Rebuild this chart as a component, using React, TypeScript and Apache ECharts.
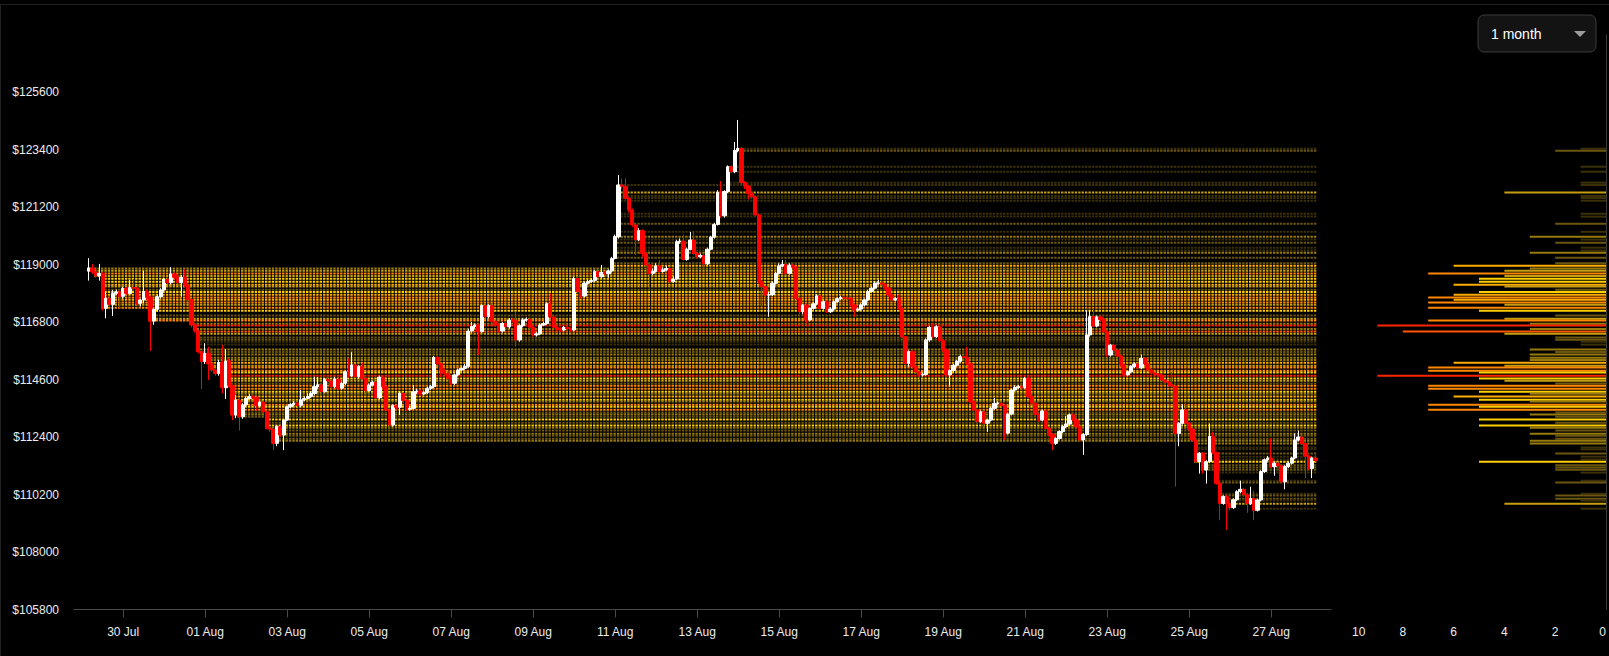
import React, { useEffect, useRef } from "react";
import * as echarts from "echarts";

// 2-hour candles, index 0 = 29 Jul 04:00
const firstOpen = 118760;
const closes = [
  118870,118720,118570,118670,117330,117710,117480,117900,117960,117790,
  118090,117900,118120,118100,117520,117650,117970,117750,116840,117290,
  117775,118030,118440,118310,118640,118515,118310,118515,118220,117670,
  116690,116470,115670,115290,115600,115200,114970,114840,115250,114290,
  115310,114370,113245,113820,113180,113630,113880,113950,113910,113600,
  113740,113370,112740,112700,112160,112800,112480,113050,113560,113650,
  113700,113620,113820,113880,113950,114070,114330,114400,114140,114610,
  114550,114330,114610,114270,114460,114900,114740,115160,114710,115100,
  114650,114180,114390,114500,113900,114690,114330,113440,112860,113600,
  113540,114075,113800,113460,113500,114140,114160,114050,114100,114270,
  114330,115450,115200,114970,114840,114650,114460,114780,114970,115030,
  115100,116460,116630,116690,116435,117430,117010,117430,116820,116690,
  116460,116750,116620,116880,116850,116120,116665,116880,116900,116600,
  116310,116350,116690,116750,117500,117000,116600,116560,116500,116600,
  116550,116500,118470,117970,117800,118290,118350,118400,118730,118540,
  118700,118650,118760,119240,120070,122050,122000,121540,121090,120520,
  119950,120300,119430,118990,118670,118750,118950,118740,118800,118850,
  118350,118450,119880,119900,119200,119590,119945,119430,119300,119350,
  119030,119590,120050,120540,121770,120870,121800,122750,122560,123370,
  123450,122140,122000,121730,121600,120900,118350,118160,117840,117850,
  118290,118670,118950,119000,118670,118980,118900,117710,117200,117450,
  116880,117330,117500,117800,117330,117580,117200,117300,117580,117700,
  117740,117720,117700,117460,117260,117300,117460,117650,117970,118100,
  118290,118300,118250,118100,117840,117650,117700,117330,116240,115220,
  115670,115100,114900,114780,114800,116120,116600,116250,116620,116090,
  115735,114780,114950,115150,115300,115480,115450,115200,113760,113440,
  112990,113370,112930,113050,113500,113690,113700,113600,112550,113280,
  114200,114300,114330,114300,114650,113950,113700,113270,113050,113400,
  112730,112500,112160,112350,112610,112800,112900,113250,113060,112800,
  112290,112500,116310,117010,116650,117000,116900,116430,115540,115920,
  115730,115500,115160,114780,114900,115100,115200,115050,115415,115200,
  114970,114850,114800,114780,114590,114500,114400,114350,112540,112930,
  113440,112930,112700,112290,111460,111780,111140,111460,112420,111800,
  110630,109860,110120,109860,109700,110000,110310,110400,110200,109860,
  110050,109600,109990,111080,111530,111600,111270,111400,111300,110690,
  111270,111400,111600,112290,112400,112150,111670,111200,111600,111500,
];
const highs = [
  119250,119030,118760,119030,118700,117970,117780,118030,118050,118000,
  118150,118150,118410,118450,118150,117700,118760,118050,117800,117350,
  117850,118100,118500,118520,118900,118700,118600,118600,118820,118250,
  117700,116750,116500,115700,115990,115860,115250,115050,115350,115930,
  115770,115400,114400,114010,113900,113700,113950,114050,114000,113950,
  113800,113780,113400,112800,112750,112850,112850,113100,113600,113700,
  113780,113750,114200,113950,114070,114150,114710,114700,114450,114650,
  114680,114600,114710,114650,114520,114950,115410,115650,115200,115150,
  115250,114700,114450,114550,114550,114750,114750,114380,113500,113650,
  113650,114150,114100,113850,113600,114390,114250,114200,114180,114330,
  114400,115500,115500,115250,115000,114900,114700,114830,115020,115100,
  115200,116550,116800,116750,116750,117480,117480,117480,117480,116880,
  116750,116800,116800,116950,116950,117200,116720,116950,116980,116950,
  116650,116420,116750,116820,117550,117900,117050,116650,116600,116650,
  116650,116600,118520,118550,118050,118350,118420,118480,118800,118780,
  118990,118750,118820,119300,120150,122430,122300,122300,121600,121150,
  120580,120400,120350,119500,119050,118850,119050,119180,118900,118950,
  118900,118550,119950,120000,120140,119650,120250,120280,119480,119420,
  119400,119650,120100,120600,121850,122200,121850,122800,122800,123700,
  124540,123500,122200,122050,121800,121650,120950,118400,118200,117950,
  118350,118720,119050,119180,119180,119050,119020,118950,117750,117500,
  117500,117380,117580,117860,117850,117630,117630,117380,117630,117760,
  117800,117790,117760,117750,117500,117360,117520,117700,118030,118160,
  118350,118420,118380,118300,118150,117880,117760,117850,117380,116280,
  115720,115720,115150,114950,114850,116180,116650,116750,116680,116680,
  116150,115780,115000,115200,115350,115550,115520,115860,115250,113800,
  113480,113420,113420,113100,113550,113900,113770,113750,113650,113330,
  114250,114380,114400,114400,114700,114700,114000,113750,113320,113450,
  113450,112780,112550,112400,112660,112850,113200,113300,113300,113100,
  112850,112550,117260,117270,117330,117050,117050,116950,116480,115970,
  115970,115780,115550,115200,114950,115150,115250,115250,115550,115450,
  115250,115000,114880,114850,114820,114620,114550,114900,114400,112980,
  113650,113700,112980,112750,112330,111830,111830,111510,112920,112600,
  111850,110680,110170,110170,109900,110050,110370,110730,110450,110250,
  110500,110350,110040,111130,111580,111680,112350,111450,111450,111350,
  111320,111450,111650,112540,112650,112450,112200,111720,111650,111700,
];
const lows = [
  118390,118650,118500,118390,117250,116950,117400,117040,117850,117330,
  117700,117850,117850,118000,117450,117400,117520,117650,115700,116700,
  117200,117700,117950,118250,118250,118450,118250,117780,118150,117600,
  116600,116400,115600,114240,115200,114590,114900,114750,114750,114070,
  113860,114300,113050,113120,112650,113100,113550,113850,113850,113410,
  113550,113300,112700,112600,111900,112050,112400,111900,113000,113500,
  113600,113550,113550,113780,113850,113900,114000,114250,114010,114100,
  114480,114250,114280,114200,114200,114400,114680,114700,114650,114650,
  114600,114100,114150,114350,113850,113850,114250,113400,112700,112800,
  113450,113250,113700,113400,113400,113450,114050,113980,114000,114050,
  114200,114280,115150,114710,114780,114600,114400,114400,114720,114920,
  114980,115050,116400,116550,115540,116400,116950,116950,116750,116620,
  116400,116400,116550,116550,116780,115860,116050,116600,116820,116550,
  116250,116250,116300,116650,116700,116950,116550,116480,116420,116450,
  116480,116420,116450,117900,117700,117750,118250,118300,118350,118480,
  118500,118600,118500,118700,119200,120000,121900,121480,121000,120450,
  119370,119900,119300,118920,118030,118600,118700,118680,118700,118750,
  118280,118300,118400,119800,119150,119150,119550,119380,119250,119250,
  118850,118980,119550,120000,120500,120800,120800,121750,122500,122500,
  123300,122050,121900,121500,121550,120850,118280,117390,117500,117010,
  117800,118250,118620,118900,118620,118620,118850,117650,117100,117100,
  116750,116830,117280,117450,117280,117280,117150,117150,117250,117530,
  117650,117660,117640,117400,117000,117200,117250,117400,117600,117920,
  118050,118230,118200,118050,117780,117600,117600,117280,116180,115150,
  115100,115050,114850,114600,114720,114750,116050,116200,116200,116040,
  115680,114720,114330,114900,115100,115250,115400,115150,113700,113380,
  112900,112950,112800,112600,113000,113450,113640,113540,112300,112500,
  113230,114150,114250,114250,114250,113900,113650,113200,112980,113000,
  112680,112450,111900,112100,112300,112550,112750,112850,113000,112750,
  112250,111720,112450,116250,116600,116600,116850,116380,115480,115480,
  115680,115450,115100,114720,114730,114850,115050,115000,115000,115150,
  114920,114800,114750,114720,114540,114450,114350,114300,110500,112050,
  112880,112880,112650,112240,111400,111000,111000,110620,111400,111750,
  110580,109220,109810,108840,109600,109650,109950,110250,110150,109500,
  109800,109220,109550,109940,111030,111480,111220,110920,111250,110640,
  110400,111220,111350,111550,112240,112100,110830,111150,110830,111450,
];

const dateTickIndex = [10, 34, 58, 82, 106, 130, 154, 178, 202, 226, 250, 274, 298, 322, 346];
const dateLabels = ["30 Jul", "01 Aug", "03 Aug", "05 Aug", "07 Aug", "09 Aug", "11 Aug", "13 Aug",
  "15 Aug", "17 Aug", "19 Aug", "21 Aug", "23 Aug", "25 Aug", "27 Aug"];
const priceTicks = [105800, 108000, 110200, 112400, 114600, 116800, 119000, 121200, 123400, 125600];

// volume-profile levels: price and count
const levelPrices = [
  123440,123360,122750,122560,122140,122050,121760,121630,121550,121450,
  120950,120840,120570,120260,120070,119960,119840,119650,119540,119460,
  119270,119050,118960,118850,118770,118660,118570,118460,118350,118230,
  118160,118040,117950,117850,117740,117660,117550,117470,117350,117240,
  117050,116930,116860,116740,116670,116540,116440,116360,116210,116130,
  116050,115940,115750,115660,115560,115440,115350,115250,115130,115060,
  114940,114870,114750,114640,114560,114450,114370,114250,114140,114060,
  113950,113830,113760,113640,113560,113450,113340,113260,113180,113070,
  112950,112840,112760,112650,112530,112450,112340,112260,112150,112000,
  111930,111770,111650,111540,111460,111320,111240,111150,111040,110730,
  110660,110230,110160,110040,109970,109850,109660,
];
const levelCounts = [
  1,2,1,1,1,1,4,1,1,1,
  1,1,2,1,3,1,2,1,1,3,
  2,2,6,3,4,7,4,5,5,6,
  4,2,5,6,7,6,7,4,7,5,
  2,4,7,3,9,3,8,4,2,2,
  1,1,3,2,3,3,3,6,4,7,
  7,5,9,5,4,2,7,7,5,3,
  6,5,3,7,5,7,2,3,2,5,
  2,5,3,2,3,2,2,3,3,1,
  1,2,1,1,5,2,2,2,1,1,
  2,1,2,2,1,4,1,
];

const countColors = ["#3b3008", "#6a5610", "#977a0c", "#c79e10", "#ffcf00", "#ffad00", "#ff8800", "#ff5500", "#ff2400"];
const FONT = '"Liberation Sans", Arial, sans-serif';

export default function App() {
  const ref = useRef<HTMLDivElement>(null);
  useEffect(() => {
    document.body.style.margin = "0";
    document.body.style.background = "#000";
    const chart = echarts.init(ref.current as HTMLDivElement, null, { renderer: "svg" });
    const lastIndex = closes.length - 1;
    const candles = closes.map((c, i) => {
      const o = i === 0 ? firstOpen : closes[i - 1];
      return [i, o, c, lows[i], highs[i]];
    });
    const levelData = levelPrices.map((p, k) => {
      let start = candles.findIndex((d) => p >= Math.min(d[1], d[2]) && p <= Math.max(d[1], d[2]));
      if (start < 0) start = candles.findIndex((d) => p >= d[3] && p <= d[4]);
      if (start < 0) start = 0;
      return [start, p, levelCounts[k]];
    });
    const histData = levelPrices.map((p, k) => [levelCounts[k], p]);

    const option: any = {
      animation: false,
      backgroundColor: "#000",
      grid: [
        { left: 74, right: 278, top: 34.8, bottom: 46.5 },
        { left: 1352, right: 3, top: 34.8, bottom: 46.5 },
      ],
      xAxis: [
        {
          type: "value", gridIndex: 0, min: -4.39, max: 363.5,
          splitLine: { show: false },
          axisLine: { show: true, onZero: false, lineStyle: { color: "#4a4a4a" } },
          axisTick: { show: true, customValues: dateTickIndex, length: 8, lineStyle: { color: "#4a4a4a" } },
          axisLabel: {
            customValues: dateTickIndex,
            formatter: (v: number) => {
              const k = dateTickIndex.indexOf(Math.round(v));
              return k >= 0 ? dateLabels[k] : "";
            },
            color: "#ececec", fontSize: 12, margin: 16, fontFamily: FONT,
          },
        },
        {
          type: "value", gridIndex: 1, min: 0, max: 10, interval: 2, inverse: true,
          axisLine: { show: false }, axisTick: { show: false }, splitLine: { show: false },
          axisLabel: { color: "#ececec", fontSize: 12, margin: 16, fontFamily: FONT, alignMinLabel: "right", alignMaxLabel: "left" },
        },
      ],
      yAxis: [
        {
          type: "value", gridIndex: 0, min: 105800, max: 127800,
          splitLine: { show: false }, axisLine: { show: false }, axisTick: { show: false },
          axisLabel: {
            customValues: priceTicks,
            formatter: (v: number) => "$" + v,
            color: "#ececec", fontSize: 12, margin: 15, fontFamily: FONT, padding: [0, 0, 5, 0],
          },
        },
        {
          type: "value", gridIndex: 1, min: 105800, max: 127800, position: "right",
          axisLine: { show: true, lineStyle: { color: "#3a3a3a" } },
          axisTick: { show: false }, axisLabel: { show: false }, splitLine: { show: false },
        },
      ],
      series: [
        {
          type: "custom", xAxisIndex: 0, yAxisIndex: 0, data: levelData, z: 1, silent: true,
          encode: { x: 0, y: 1 },
          renderItem: (params: any, api: any) => {
            const start = api.value(0);
            const price = api.value(1);
            const cnt = api.value(2);
            const a = api.coord([start - 0.5, price]);
            const b = api.coord([lastIndex + 0.5, price]);
            const w = api.size([1, 0])[0];
            return {
              type: "line",
              shape: { x1: a[0], y1: a[1], x2: b[0], y2: b[1] },
              style: { stroke: countColors[cnt - 1], lineWidth: 2, lineDash: [w * 0.7, w * 0.3] },
            };
          },
        },
        {
          type: "candlestick", xAxisIndex: 0, yAxisIndex: 0, data: candles, z: 3,
          encode: { x: 0, y: [1, 2, 3, 4] },
          barWidth: 3.8,
          itemStyle: { color: "#ffffff", color0: "#ff0000", borderColor: "#ffffff", borderColor0: "#ff0000", borderWidth: 1 },
        },
        {
          type: "custom", xAxisIndex: 1, yAxisIndex: 1, data: histData, silent: true,
          encode: { x: 0, y: 1 },
          renderItem: (params: any, api: any) => {
            const cnt = api.value(0);
            const price = api.value(1);
            const a = api.coord([0, price]);
            const b = api.coord([cnt, price]);
            return {
              type: "rect",
              shape: { x: Math.min(a[0], b[0]), y: a[1] - 1, width: Math.abs(a[0] - b[0]), height: 2 },
              style: { fill: countColors[cnt - 1] },
            };
          },
        },
      ],
      graphic: [
        { type: "rect", silent: true, shape: { x: 0.5, y: 4.5, width: 1700, height: 700 }, style: { fill: "none", stroke: "#222", lineWidth: 1 } },
        { type: "rect", shape: { x: 1478, y: 15, width: 118, height: 37, r: 6 }, style: { fill: "#131313", stroke: "#3c3c3c", lineWidth: 1 } },
        { type: "text", style: { x: 1491, y: 33.5, text: "1 month", fill: "#ffffff", font: '14px "Liberation Sans", Arial, sans-serif', verticalAlign: "middle" } },
        { type: "polygon", shape: { points: [[1574, 31], [1586, 31], [1580, 37]] }, style: { fill: "#9c9c9c" } },
      ],
    };
    chart.setOption(option);
    return () => chart.dispose();
  }, []);
  return <div ref={ref} style={{ width: 1609, height: 656, background: "#000" }} />;
}
